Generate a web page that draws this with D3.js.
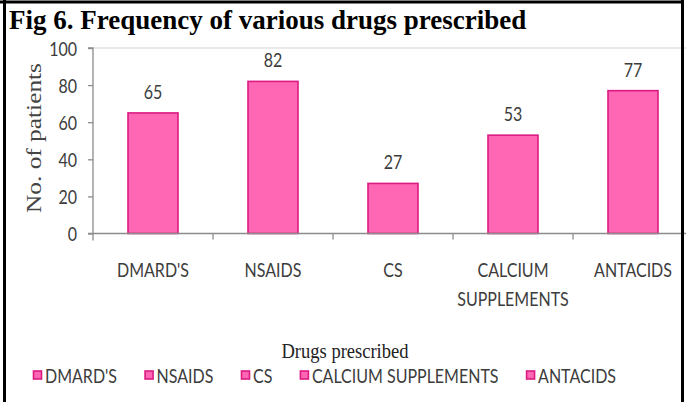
<!DOCTYPE html>
<html>
<head>
<meta charset="utf-8">
<script src="https://cdn.jsdelivr.net/npm/d3@7"></script>
<style>
  html, body { margin: 0; padding: 0; background: #fff; }
  svg { display: block; }
</style>
</head>
<body>
<svg id="chart" width="686" height="402"></svg>
<script>
// Drug categories and patient counts
const categories = ["DMARD'S", "NSAIDS", "CS", "CALCIUM SUPPLEMENTS", "ANTACIDS"];
const axisLabels = [["DMARD'S"], ["NSAIDS"], ["CS"], ["CALCIUM", "SUPPLEMENTS"], ["ANTACIDS"]];
const patients = [65, 82, 27, 53, 77];
const yTicks = [0, 20, 40, 60, 80, 100];

const svg = d3.select("#chart");
const W = 686, H = 402;

const sans = "Lato, 'Open Sans', sans-serif";
const serif = "'Liberation Serif', 'Times New Roman', serif";
const sx = 0.8;          // horizontal squeeze of the narrow sans labels
const fs = "20px";
const barFill = "#ff66b4", barStroke = "#dc1a82";
const axisColor = "#8c8c8c", labelColor = "#3c3c3c";

// Plot geometry
const x0 = 93, band = 120;
const x = d3.scaleBand().domain(categories).range([x0, x0 + band * categories.length]).paddingInner(0).paddingOuter(0);
const y = d3.scaleLinear().domain([0, 100]).range([233.5, 48]);
const barW = 50;

svg.append("rect").attr("x", 0).attr("y", 0).attr("width", W).attr("height", H).attr("fill", "#fff");

// Top border line of plot area (at max value)
svg.append("line").attr("x1", x0).attr("x2", W).attr("y1", y(100)).attr("y2", y(100))
  .attr("stroke", "#d6d6d6").attr("stroke-width", 1.2);

// Bars
svg.append("g").selectAll("rect").data(categories).join("rect")
  .attr("x", (d) => x(d) + (band - barW) / 2)
  .attr("width", barW)
  .attr("y", (d, i) => y(patients[i]))
  .attr("height", (d, i) => y(0) - y(patients[i]))
  .attr("fill", barFill)
  .attr("stroke", barStroke)
  .attr("stroke-width", 1.6);

// Y axis
const yAxis = svg.append("g").attr("transform", `translate(${x0},0)`)
  .call(d3.axisLeft(y).tickValues(yTicks).tickSize(5).tickPadding(0).tickFormat(d3.format("d")));
yAxis.select(".domain").attr("stroke", axisColor).attr("stroke-width", 1.3)
  .attr("d", `M-5,${y(100)}H0V${y(0) + 7}`);
yAxis.selectAll(".tick line").attr("stroke", axisColor).attr("stroke-width", 1.3);
yAxis.selectAll(".tick text").remove();
yAxis.selectAll(".tick").append("text")
  .attr("transform", `translate(-16,7) scale(${sx},1)`)
  .attr("text-anchor", "end")
  .attr("fill", labelColor)
  .style("font-family", sans).style("font-size", fs)
  .text((d) => d);

// X axis line and boundary ticks
const xAxisG = svg.append("g");
xAxisG.append("line").attr("x1", x0 - 5).attr("x2", W).attr("y1", y(0)).attr("y2", y(0))
  .attr("stroke", axisColor).attr("stroke-width", 1.3);
xAxisG.selectAll("line.tk").data(categories.slice(1)).join("line").attr("class", "tk")
  .attr("x1", (d) => x(d)).attr("x2", (d) => x(d))
  .attr("y1", y(0)).attr("y2", y(0) + 6)
  .attr("stroke", axisColor).attr("stroke-width", 1.3);

// Category labels
const catG = svg.append("g").selectAll("g").data(categories).join("g")
  .attr("transform", (d) => `translate(${x(d) + band / 2},277)`);
catG.each(function (d, i) {
  d3.select(this).selectAll("text").data(axisLabels[i]).join("text")
    .attr("transform", (t, j) => `translate(0,${j * 29}) scale(${sx},1)`)
    .attr("text-anchor", "middle")
    .attr("fill", labelColor)
    .style("font-family", sans).style("font-size", fs)
    .text((t) => t);
});

// Value labels
svg.append("g").selectAll("text").data(categories).join("text")
  .attr("transform", (d, i) => `translate(${x(d) + band / 2},${y(patients[i]) - 14}) scale(${sx},1)`)
  .attr("text-anchor", "middle")
  .attr("fill", labelColor)
  .style("font-family", sans).style("font-size", fs)
  .text((d, i) => patients[i]);

// Axis titles
svg.append("text")
  .attr("transform", "translate(41,138) rotate(-90)")
  .attr("text-anchor", "middle")
  .attr("fill", "#444")
  .style("font-family", serif).style("font-size", "22px")
  .attr("textLength", 150).attr("lengthAdjust", "spacingAndGlyphs")
  .text("No. of patients");

svg.append("text")
  .attr("x", 345).attr("y", 358)
  .attr("text-anchor", "middle")
  .attr("fill", "#222")
  .style("font-family", serif).style("font-size", "21px")
  .attr("textLength", 127).attr("lengthAdjust", "spacingAndGlyphs")
  .text("Drugs prescribed");

// Legend: entries spread between the left and right ends of the row
const legStart = 33, legEnd = 616, boxToText = 12;
const legend = svg.append("g").attr("transform", `translate(${legStart},383)`);
const items = legend.selectAll("g").data(categories).join("g");
items.append("rect").attr("x", 0.5).attr("y", -12).attr("width", 8).attr("height", 8)
  .attr("fill", barFill).attr("stroke", barStroke).attr("stroke-width", 1.6);
const legText = items.append("text")
  .attr("transform", `translate(${boxToText},0) scale(${sx},1)`)
  .attr("fill", labelColor)
  .style("font-family", sans).style("font-size", fs)
  .text((d) => d);
const widths = legText.nodes().map((n) => boxToText + n.getComputedTextLength() * sx);
const gap = (legEnd - legStart - d3.sum(widths)) / (categories.length - 1);
let lx = 0;
items.attr("transform", (d, i) => { const t = `translate(${lx},0)`; lx += widths[i] + gap; return t; });

// Title
svg.append("text")
  .attr("x", 9).attr("y", 29)
  .attr("fill", "#000")
  .style("font-family", serif).style("font-size", "27px").style("font-weight", "bold")
  .text("Fig 6. Frequency of various drugs prescribed");

// Outer frame lines
const frame = svg.append("g").attr("stroke", "#000").attr("stroke-width", 3);
frame.append("line").attr("x1", 0).attr("x2", 684).attr("y1", 2).attr("y2", 2);
frame.append("line").attr("x1", 4.5).attr("x2", 4.5).attr("y1", 0).attr("y2", H);
frame.append("line").attr("x1", 682.5).attr("x2", 682.5).attr("y1", 0).attr("y2", H);
</script>
</body>
</html>
